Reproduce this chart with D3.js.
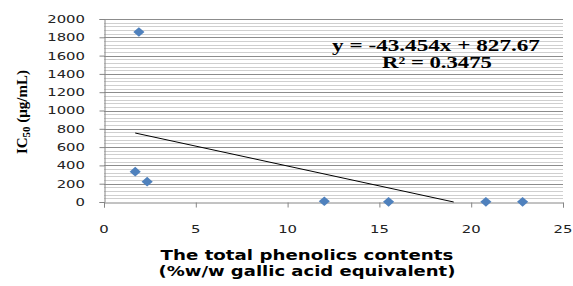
<!DOCTYPE html>
<html>
<head>
<meta charset="utf-8">
<script src="https://cdn.jsdelivr.net/npm/d3@7"></script>
<style>
  body { margin: 0; background: #fff; }
  svg { display: block; }
</style>
</head>
<body>
<svg id="chart"></svg>
<script>
// phenolic content (% w/w GAE) vs IC50 (ug/mL)
const phenolics = [1.9, 1.7, 2.35, 12.0, 15.5, 20.8, 22.8];
const ic50 = [1858, 331, 222, 8, 2, 2, 2];
const slope = -43.454, intercept = 827.67;
const rSquared = 0.3475;
const xTicks = [0, 5, 10, 15, 20, 25];
const yTicks = d3.range(0, 2001, 200);
const yMinor = d3.range(0, 2001, 40);

const width = 573, height = 286;

const svg = d3.select("#chart").attr("width", width).attr("height", height);

const x = d3.scaleLinear().domain([0, 25]).range([104, 563]);
const y = d3.scaleLinear().domain([0, 2000]).range([202, 19]);

// stretch a text element horizontally to a target width around its anchor
function fit(sel, w) {
  const len = sel.node().getComputedTextLength();
  const ax = +sel.attr("x"), ay = +sel.attr("y");
  sel.attr("transform", `translate(${ax},${ay}) scale(${w / len},1) translate(${-ax},${-ay})`);
}

// minor grid
svg.append("g").selectAll("line")
  .data(yMinor.filter(d => d % 200 !== 0))
  .enter().append("line")
  .attr("x1", x(0)).attr("x2", x(25))
  .attr("y1", d => Math.round(y(d)) + 0.5).attr("y2", d => Math.round(y(d)) + 0.5)
  .attr("stroke", "#cfcfcf").attr("stroke-width", 1);

// major grid
svg.append("g").selectAll("line")
  .data(yTicks.filter(d => d > 0))
  .enter().append("line")
  .attr("x1", x(0)).attr("x2", x(25))
  .attr("y1", d => Math.round(y(d)) + 0.5).attr("y2", d => Math.round(y(d)) + 0.5)
  .attr("stroke", "#8c8c8c").attr("stroke-width", 1);

// axes
const xAxis = svg.append("g")
  .attr("transform", `translate(0,${Math.round(y(0)) + 0.5})`)
  .call(d3.axisBottom(x).tickValues(xTicks).tickSize(5).tickFormat(""));
const yAxis = svg.append("g")
  .attr("transform", `translate(${Math.round(x(0)) + 0.5},0)`)
  .call(d3.axisLeft(y).tickValues(yTicks).tickSize(5).tickFormat(""));
[xAxis, yAxis].forEach(a => {
  a.select(".domain").attr("stroke", "#868686");
  a.selectAll(".tick line").attr("stroke", "#868686");
});

// tick labels
xTicks.forEach(t => {
  const tx = svg.append("text")
    .attr("x", x(t)).attr("y", 233)
    .attr("text-anchor", "middle")
    .attr("font-family", "DejaVu Sans").attr("font-size", 11)
    .attr("fill", "#222").text(t);
  fit(tx, tx.node().getComputedTextLength() * 1.35);
});
yTicks.forEach(t => {
  const ty = svg.append("text")
    .attr("x", 85).attr("y", y(t) + 4)
    .attr("text-anchor", "end")
    .attr("font-family", "DejaVu Sans").attr("font-size", 11)
    .attr("fill", "#222").text(t);
  fit(ty, ty.node().getComputedTextLength() * 1.35);
});

// trend line, clipped at y = 0
const x0 = d3.min(phenolics), x1 = Math.min(d3.max(phenolics), -intercept / slope);
svg.append("line")
  .attr("x1", x(x0)).attr("y1", y(slope * x0 + intercept))
  .attr("x2", x(x1)).attr("y2", y(slope * x1 + intercept))
  .attr("stroke", "#000").attr("stroke-width", 1);

// markers
const diamond = d3.symbol().type(d3.symbolDiamond2).size(60);
svg.append("g").selectAll("path")
  .data(phenolics.map((p, i) => [p, ic50[i]]))
  .enter().append("path")
  .attr("d", diamond)
  .attr("transform", d => `translate(${x(d[0])},${y(d[1])}) scale(1.15,1)`)
  .attr("fill", "#4f81bd");

// equation
const eq = svg.append("text")
  .attr("x", 436).attr("y", 51)
  .attr("text-anchor", "middle")
  .attr("font-family", "Liberation Serif").attr("font-weight", "bold")
  .attr("font-size", 16).attr("fill", "#000")
  .text(`y = ${slope}x + ${intercept}`);
fit(eq, 208);
const r2 = svg.append("text")
  .attr("x", 437).attr("y", 68)
  .attr("text-anchor", "middle")
  .attr("font-family", "Liberation Serif").attr("font-weight", "bold")
  .attr("font-size", 16).attr("fill", "#000")
  .text(`R² = ${rSquared}`);
fit(r2, 110);

// axis titles
const t1 = svg.append("text")
  .attr("x", 307).attr("y", 260)
  .attr("text-anchor", "middle")
  .attr("font-family", "DejaVu Sans").attr("font-weight", "bold")
  .attr("font-size", 13.5).attr("fill", "#000")
  .text("The total phenolics contents");
fit(t1, 293);
const t2 = svg.append("text")
  .attr("x", 307).attr("y", 276)
  .attr("text-anchor", "middle")
  .attr("font-family", "DejaVu Sans").attr("font-weight", "bold")
  .attr("font-size", 13.5).attr("fill", "#000")
  .text("(%w/w  gallic acid equivalent)");
fit(t2, 297);

const yt = svg.append("text")
  .attr("x", 0).attr("y", 0)
  .attr("transform", "translate(27,112) rotate(-90)")
  .attr("text-anchor", "middle")
  .attr("font-family", "Liberation Serif").attr("font-weight", "bold")
  .attr("font-size", 15).attr("fill", "#000");
yt.append("tspan").text("IC");
yt.append("tspan").attr("font-size", 11).attr("dy", 3).text("50");
yt.append("tspan").attr("dy", -3).text(" (μg/mL)");
</script>
</body>
</html>
